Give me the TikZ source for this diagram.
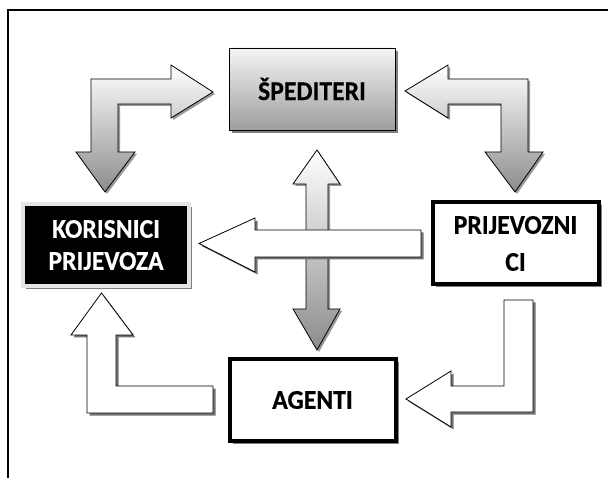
\documentclass[tikz,border=0pt]{standalone}
\usepackage{fontspec}
\setmainfont{Carlito}[FakeStretch=0.95, BoldFeatures={FakeBold=0.5}]
\usetikzlibrary{shadows}

\begin{document}
\begin{tikzpicture}[x=1pt, y=-1pt, line join=miter,
	font=\bfseries\fontsize{27}{32}\selectfont,
	box/.style={minimum width=166pt, minimum height=82pt, inner sep=0pt, align=center,
		drop shadow={shadow xshift=3pt, shadow yshift=-3pt, fill=black!50, opacity=1}},
	greyarrow/.style={draw=black, line width=.8pt, top color=white, bottom color=black!45,
		drop shadow={shadow xshift=2pt, shadow yshift=-2pt, fill=black!40, opacity=1}},
	whitearrow/.style={draw=black, line width=.8pt, fill=white,
		drop shadow={shadow xshift=2.5pt, shadow yshift=-2.5pt, fill=black!55, opacity=1}}]
			\useasboundingbox (0,0) rectangle (608,478);
			\fill[white] (0,0) rectangle (608,478);
			\draw[line width=1.2pt] (8,478)--(8,10)--(608,10);
			\node[box, draw=black, line width=.8pt, top color=black!4, bottom color=black!38] (sped) at (312,89) {ŠPEDITERI};
			\node[box, draw=black!10, line width=4pt, fill=black, text=white] (kor) at (106,245) {KORISNICI\\PRIJEVOZA};
			\node[box, draw=black, line width=4pt, fill=white, font=\bfseries\fontsize{27}{37}\selectfont] (prij) at (515.5,243.5) {PRIJEVOZNI\\CI};
			\node[box, draw=black, line width=4pt, fill=white] (agent) at (312.5,400) {AGENTI};
			\draw[greyarrow] (213,92)--(171,65)--(171,79)--(91,79)--(91,152)--(76,152)--(105,192)--(135,152)--(118,152)--(118,104)--(171,104)--(171,118)--cycle;
			\draw[greyarrow] (405,91)--(448,65)--(448,79)--(528,79)--(528,152)--(543,152)--(515,192)--(485,152)--(501,152)--(501,104)--(448,104)--(448,118)--cycle;
			\draw[greyarrow] (317,150)--(340,184)--(328,184)--(328,309)--(340,309)--(317,350)--(293,309)--(306,309)--(306,184)--(293,184)--cycle;
			\draw[whitearrow] (199,243.5)--(255,218)--(255,230)--(421,230)--(421,257)--(255,257)--(255,272)--cycle;
			\draw[whitearrow] (504,300)--(533,300)--(533,412)--(451,412)--(451,427)--(406,399)--(451,371)--(451,386)--(504,386)--cycle;
			\draw[whitearrow] (213,386)--(213,413)--(87,413)--(87,335)--(71,335)--(101.5,293)--(133,335)--(116,335)--(116,386)--cycle;
		\end{tikzpicture}
\end{document}
